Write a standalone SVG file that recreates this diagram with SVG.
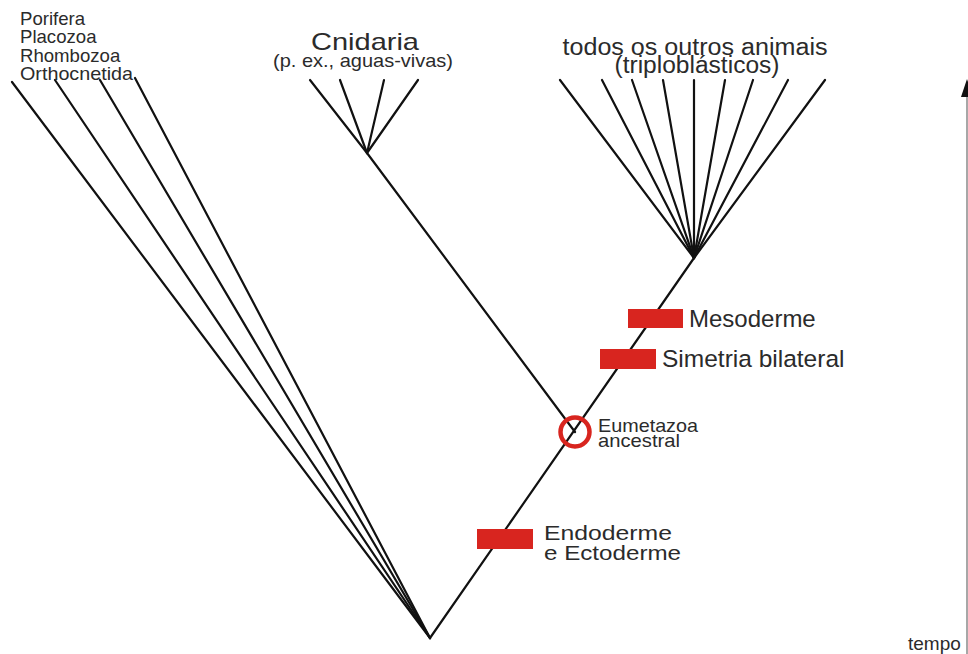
<svg xmlns="http://www.w3.org/2000/svg" width="968" height="654" viewBox="0 0 968 654">
<style>
.t{font-family:"Liberation Sans",Arial,sans-serif;fill:#2b2b2b}
.br{stroke:#111;stroke-width:2.2;fill:none;stroke-linecap:round}
.bar{fill:#d8251f}
</style>
<rect width="968" height="654" fill="#fff"/>
<g id="connectors">
<line class="br" x1="430" y1="638" x2="12" y2="82"/>
<line class="br" x1="430" y1="638" x2="55" y2="80"/>
<line class="br" x1="430" y1="638" x2="100" y2="80"/>
<line class="br" x1="430" y1="638" x2="135" y2="78"/>
<line class="br" x1="430" y1="638" x2="694" y2="258"/>
<line class="br" x1="575" y1="432" x2="367" y2="153"/>
<line class="br" x1="367" y1="153" x2="310" y2="80"/>
<line class="br" x1="367" y1="153" x2="340" y2="80"/>
<line class="br" x1="367" y1="153" x2="384" y2="80"/>
<line class="br" x1="367" y1="153" x2="418" y2="80"/>
<line class="br" x1="694" y1="258" x2="560" y2="80"/>
<line class="br" x1="694" y1="258" x2="602" y2="80"/>
<line class="br" x1="694" y1="258" x2="632" y2="80"/>
<line class="br" x1="694" y1="258" x2="663" y2="80"/>
<line class="br" x1="694" y1="258" x2="694" y2="80"/>
<line class="br" x1="694" y1="258" x2="725" y2="80"/>
<line class="br" x1="694" y1="258" x2="753" y2="80"/>
<line class="br" x1="694" y1="258" x2="788" y2="80"/>
<line class="br" x1="694" y1="258" x2="825" y2="80"/>
</g>
<g id="basal-taxa">
<text class="t" x="20" y="25" font-size="18.6">Porifera</text>
<text class="t" x="20" y="43.3" font-size="18.6">Placozoa</text>
<text class="t" x="20" y="61.6" font-size="18.6">Rhombozoa</text>
<text class="t" x="20" y="80" font-size="18.6" textLength="113" lengthAdjust="spacingAndGlyphs">Orthocnetida</text>
</g>
<g id="cnidaria">
<text class="t" x="365" y="50" font-size="24" text-anchor="middle" textLength="108" lengthAdjust="spacingAndGlyphs">Cnidaria</text>
<text class="t" x="363" y="67" font-size="19" text-anchor="middle" textLength="180" lengthAdjust="spacingAndGlyphs">(p. ex., aguas-vivas)</text>
</g>
<g id="triploblastic">
<text class="t" x="695" y="55" font-size="23" text-anchor="middle" textLength="265" lengthAdjust="spacingAndGlyphs">todos os outros animais</text>
<text class="t" x="697" y="73" font-size="23" text-anchor="middle" textLength="165" lengthAdjust="spacingAndGlyphs">(triploblásticos)</text>
</g>
<g id="mesoderme">
<rect class="bar" x="628" y="309" width="55" height="19"/>
<text class="t" x="689" y="327" font-size="24">Mesoderme</text>
</g>
<g id="simetria">
<rect class="bar" x="600" y="349" width="56" height="20"/>
<text class="t" x="662" y="367" font-size="24.5">Simetria bilateral</text>
</g>
<g id="eumetazoa">
<circle cx="575" cy="432" r="14.5" fill="none" stroke="#d8251f" stroke-width="4.5"/>
<text class="t" x="598" y="432" font-size="18.5" textLength="100" lengthAdjust="spacingAndGlyphs">Eumetazoa</text>
<text class="t" x="598" y="447" font-size="18.5" textLength="82" lengthAdjust="spacingAndGlyphs">ancestral</text>
</g>
<g id="endo-ecto">
<rect class="bar" x="477" y="529" width="56" height="20"/>
<text class="t" x="544" y="540" font-size="21" textLength="128" lengthAdjust="spacingAndGlyphs">Endoderme</text>
<text class="t" x="544" y="560" font-size="21" textLength="137" lengthAdjust="spacingAndGlyphs">e Ectoderme</text>
</g>
<g id="time-axis">
<line x1="967" y1="94" x2="967" y2="654" stroke="#8a8a8a" stroke-width="1.5"/>
<polygon points="967,79 961,97 973,97" fill="#111"/>
<text class="t" x="908" y="650" font-size="19">tempo</text>
</g>
</svg>
